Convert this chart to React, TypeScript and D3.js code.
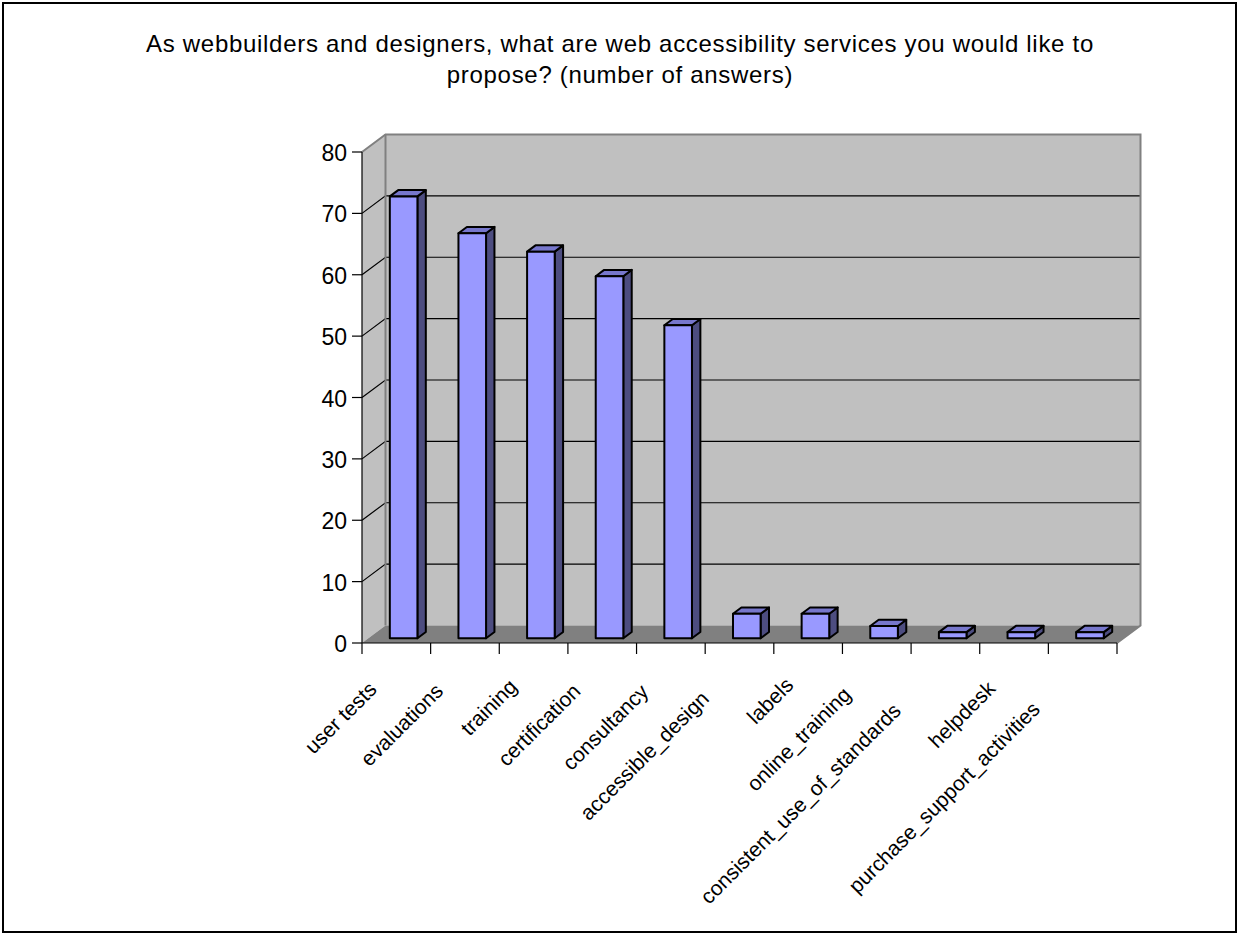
import React, { useEffect, useRef } from "react";
import * as d3 from "d3";

const titleLines = [
  "As webbuilders and designers, what are web accessibility services you would like to",
  "propose? (number of answers)",
];
const categories = [
  "user tests",
  "evaluations",
  "training",
  "certification",
  "consultancy",
  "accessible_design",
  "labels",
  "online_training",
  "consistent_use_of_standards",
  "helpdesk",
  "purchase_support_activities",
];
const values = [72, 66, 63, 59, 51, 4, 4, 2, 1, 1, 1];
const yTicks = [0, 10, 20, 30, 40, 50, 60, 70, 80];

const W = 1239;
const H = 936;
const FONT = "'Liberation Sans', Arial, sans-serif";

export default function App() {
  const ref = useRef<SVGSVGElement | null>(null);

  useEffect(() => {
    document.body.style.margin = "0";
    const svg = d3.select(ref.current);
    svg.selectAll("*").remove();

    const x0 = 362, x1 = 1117;
    const DX = 23.5, DY = -17.5; // full depth offset
    const y = d3.scaleLinear().domain([0, 80]).range([643, 152]);
    const x = d3.scaleBand<string>().domain(categories).range([x0, x1]).padding(0);

    // border
    svg.append("rect").attr("x", 3).attr("y", 3).attr("width", 1233).attr("height", 929)
      .attr("fill", "#fff").attr("stroke", "#000").attr("stroke-width", 2);

    // title
    svg.append("g").selectAll("text").data(titleLines).join("text")
      .attr("x", 620).attr("y", (_, i) => 52 + i * 31)
      .attr("text-anchor", "middle").attr("font-family", FONT).attr("font-size", 24)
      .attr("letter-spacing", 0.7)
      .attr("fill", "#000").text((d) => d);

    const yTop = y(80), yBot = y(0);
    // back wall
    svg.append("rect").attr("x", x0 + DX).attr("y", yTop + DY)
      .attr("width", x1 - x0).attr("height", yBot - yTop)
      .attr("fill", "#c0c0c0");
    // left side wall
    svg.append("path")
      .attr("d", `M${x0},${yBot}L${x0},${yTop}L${x0 + DX},${yTop + DY}L${x0 + DX},${yBot + DY}Z`)
      .attr("fill", "#c0c0c0");
    // floor
    svg.append("path")
      .attr("d", `M${x0},${yBot}L${x1},${yBot}L${x1 + DX},${yBot + DY}L${x0 + DX},${yBot + DY}Z`)
      .attr("fill", "#808080");

    // gridlines
    const grid = yTicks.filter((t) => t > 0 && t < 80);
    svg.append("g").selectAll("path").data(grid).join("path")
      .attr("d", (t) => `M${x0},${y(t)}L${x0 + DX},${y(t) + DY}L${x1 + DX},${y(t) + DY}`)
      .attr("fill", "none").attr("stroke", "#000").attr("stroke-width", 1.2);

    // wall border (gray)
    svg.append("path")
      .attr("d", `M${x0},${yTop}L${x0 + DX},${yTop + DY}L${x1 + DX},${yTop + DY}L${x1 + DX},${yBot + DY}L${x1},${yBot}`)
      .attr("fill", "none").attr("stroke", "#808080").attr("stroke-width", 2);
    svg.append("path")
      .attr("d", `M${x0 + DX},${yTop + DY}L${x0 + DX},${yBot + DY}`)
      .attr("fill", "none").attr("stroke", "#808080").attr("stroke-width", 2);

    // bars
    const fdx = 6.3, fdy = -4.7; // front face shift
    const bdx = 8.4, bdy = -6.3; // bar depth
    const bw = 27.6;
    const bars = svg.append("g");
    categories.forEach((c, i) => {
      const cx = (x(c) as number) + x.bandwidth() / 2 + 1;
      const L = cx - bw / 2 + fdx;
      const R = L + bw;
      const B = y(0) + fdy;
      const T = y(values[i]) + fdy;
      const g = bars.append("g").attr("stroke", "#000").attr("stroke-width", 2).attr("stroke-linejoin", "round");
      g.append("path").attr("d", `M${R},${B}L${R},${T}L${R + bdx},${T + bdy}L${R + bdx},${B + bdy}Z`).attr("fill", "#4d4d80");
      g.append("path").attr("d", `M${L},${T}L${R},${T}L${R + bdx},${T + bdy}L${L + bdx},${T + bdy}Z`).attr("fill", "#7777cc");
      g.append("rect").attr("x", L).attr("y", T).attr("width", bw).attr("height", B - T).attr("fill", "#9999ff");
    });

    // axes
    svg.append("line").attr("x1", x0).attr("x2", x0).attr("y1", yTop).attr("y2", yBot)
      .attr("stroke", "#000").attr("stroke-width", 1.2);
    svg.append("line").attr("x1", x0).attr("x2", x1).attr("y1", yBot).attr("y2", yBot)
      .attr("stroke", "#000").attr("stroke-width", 1.2);
    svg.append("g").selectAll("line").data(yTicks).join("line")
      .attr("x1", x0 - 10).attr("x2", x0).attr("y1", (t) => y(t)).attr("y2", (t) => y(t))
      .attr("stroke", "#000").attr("stroke-width", 1.2);
    svg.append("g").selectAll("text").data(yTicks).join("text")
      .attr("x", x0 - 15).attr("y", (t) => y(t) + 9)
      .attr("text-anchor", "end").attr("font-family", FONT).attr("font-size", 23)
      .text((t) => String(t));

    const edges = categories.map((c) => x(c) as number).concat([x1]);
    svg.append("g").selectAll("line").data(edges).join("line")
      .attr("x1", (d) => d).attr("x2", (d) => d).attr("y1", yBot).attr("y2", yBot + 11)
      .attr("stroke", "#000").attr("stroke-width", 1.2);

    // x labels
    const lab = svg.append("g").selectAll("text").data(categories).join("text")
      .attr("text-anchor", "end").attr("font-family", FONT).attr("font-size", 21)
      .text((d) => d);
    lab.each(function (c) {
      const node = this as SVGTextElement;
      const len = node.getComputedTextLength();
      const cx = (x(c) as number) + x.bandwidth() / 2;
      const ax = cx - 6 - 0.136 * len;
      const ay = 680 + 0.117 * len;
      d3.select(node).attr("transform", `translate(${ax},${ay}) rotate(-45)`);
    });
  }, []);

  return (
    <svg ref={ref} width={W} height={H} style={{ position: "absolute", left: 0, top: 0, display: "block" }} />
  );
}
